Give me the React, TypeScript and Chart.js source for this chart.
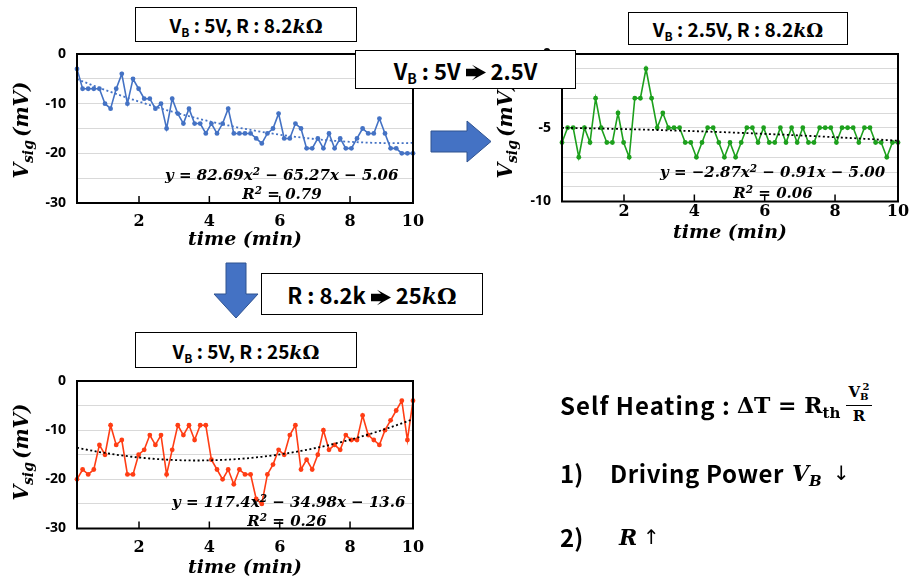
import React, { useEffect, useRef } from 'react';
import { Chart, registerables } from 'chart.js';
Chart.register(...registerables);

// ---------------- data ----------------
const T_FIRST = 0.237; // first sample time on the axis (min)
const T_LAST = 9.79; // last sample time on the axis (min)
const X_TICK_VALUES = [2, 4, 6, 8, T_LAST];
const X_TICK_LABELS = ['2', '4', '6', '8', '10'];

// V_B = 5V, R = 8.2kΩ  (mV)
const VSIG_5V_8K2 = [
  -3, -7, -7, -7, -7, -10, -11, -7, -4, -10, -5, -7, -9, -9, -11, -10, -15, -9, -12, -14,
  -11, -14, -14, -16, -14, -16, -14, -11, -16, -16, -16, -16, -17, -18, -16, -15, -12, -17, -17, -14,
  -15, -19, -19, -17, -19, -16, -19, -17, -19, -19, -17, -15, -16, -16, -13, -16, -19, -19, -20, -20, -20,
];
// V_B = 2.5V, R = 8.2kΩ (mV)
const VSIG_2V5_8K2 = [
  -6, -5, -5, -7, -5, -6, -3, -5, -6, -6, -4, -6, -7, -3, -3, -1, -3, -5, -4, -5,
  -5, -5, -6, -6, -7, -6, -5, -5, -6, -7, -6, -7, -6, -5, -5, -6, -5, -6, -6, -5,
  -6, -5, -6, -5, -6, -6, -5, -5, -5, -6, -5, -5, -5, -6, -5, -5, -6, -6, -7, -6, -6,
];
// V_B = 5V, R = 25kΩ (mV)
const VSIG_5V_25K = [
  -20, -18, -19, -18, -13, -15, -9, -13, -12, -19, -19, -15, -14, -11, -13, -11, -19, -14, -9, -11,
  -9, -12, -9, -9, -16, -18, -20, -18, -21, -18, -19, -19, -24, -25, -19, -17, -14, -15, -11, -9,
  -18, -16, -18, -15, -10, -14, -13, -14, -11, -12, -12, -7, -11, -12, -13, -10, -8, -6, -4, -12, -4,
];

const N = VSIG_5V_8K2.length;
const TIME = VSIG_5V_8K2.map((_, i) => T_FIRST + (i * (T_LAST - T_FIRST)) / (N - 1));

// least-squares quadratic trendline (like Excel's polynomial trendline)
function quadFit(xs: number[], ys: number[]) {
  const s = [0, 0, 0, 0, 0];
  const t = [0, 0, 0];
  xs.forEach((x, i) => {
    let p = 1;
    for (let k = 0; k < 5; k++) { s[k] += p; p *= x; }
    t[0] += ys[i]; t[1] += ys[i] * x; t[2] += ys[i] * x * x;
  });
  const A = [[s[0], s[1], s[2]], [s[1], s[2], s[3]], [s[2], s[3], s[4]]];
  const det = (m: number[][]) =>
    m[0][0] * (m[1][1] * m[2][2] - m[1][2] * m[2][1]) -
    m[0][1] * (m[1][0] * m[2][2] - m[1][2] * m[2][0]) +
    m[0][2] * (m[1][0] * m[2][1] - m[1][1] * m[2][0]);
  const D = det(A);
  return [0, 1, 2].map((j) => det(A.map((row, r) => row.map((v, k) => (k === j ? t[r] : v)))) / D);
}

const framePlugin = {
  id: 'frame',
  afterDraw(chart: any) {
    const { ctx, chartArea: a } = chart;
    ctx.save();
    ctx.strokeStyle = '#000';
    ctx.lineWidth = 2;
    ctx.strokeRect(a.left, a.top, a.right - a.left, a.bottom - a.top);
    const xs = chart.scales.x;
    ctx.lineWidth = 1.5;
    for (const t of xs.ticks) {
      const px = xs.getPixelForValue(t.value);
      if (px < a.right - 3) {
        ctx.beginPath();
        ctx.moveTo(px, a.bottom);
        ctx.lineTo(px, a.bottom - 7);
        ctx.stroke();
      }
    }
    ctx.restore();
  },
};

type P = {
  left: number; top: number; width: number; height: number;
  area: { l: number; t: number; r: number; b: number };
  values: number[]; color: string; trendColor: string;
  yMin: number; yMax: number; yStep: number; yLabelStep: number;
  tickPad: number; titleY: number;
};

function MiniChart(p: P) {
  const ref = useRef<HTMLCanvasElement>(null);
  useEffect(() => {
    const aT = p.area.t - p.top;
    const aR = p.area.r - p.left;
    const aB = p.area.b - p.top;
    const aL = p.area.l - p.left;
    const c = quadFit(TIME, p.values);
    const trend = TIME.map((x) => ({ x, y: c[0] + c[1] * x + c[2] * x * x }));
    const tfSize = 19;
    const titlePadBottom = p.top + p.height - p.titleY - (tfSize * 1.2) / 2;
    const chart = new Chart(ref.current as HTMLCanvasElement, {
      type: 'line',
      data: {
        datasets: [
          {
            data: p.values.map((y, i) => ({ x: TIME[i], y })),
            borderColor: p.color, backgroundColor: p.color, borderWidth: 1.6,
            pointRadius: 2.4, pointBorderWidth: 0, tension: 0, order: 2, clip: 5,
          } as any,
          {
            data: trend, borderColor: p.trendColor, borderWidth: 1.8, borderDash: [2, 2.5],
            pointRadius: 0, order: 1,
          } as any,
        ],
      },
      options: {
        responsive: false,
        animation: false,
        layout: { padding: { left: 0, top: aT, right: p.width - aR, bottom: 0 } },
        plugins: { legend: { display: false }, tooltip: { enabled: false } },
        scales: {
          x: {
            type: 'linear', min: T_FIRST, max: T_LAST,
            grid: { display: false, drawTicks: false }, border: { display: false },
            ticks: {
              autoSkip: false, maxRotation: 0, padding: p.tickPad, color: '#000',
              font: { family: 'DejaVu Serif', size: 16, weight: 'bold' },
              callback: (_v: any, i: number) => X_TICK_LABELS[i],
            },
            afterBuildTicks: (s: any) => { s.ticks = X_TICK_VALUES.map((v) => ({ value: v })); },
            afterFit: (s: any) => { s.height = p.height - aB; s.paddingLeft = 0; s.paddingRight = 0; },
            title: {
              display: true, text: 'time (min)', color: '#000',
              font: { family: 'DejaVu Serif', size: tfSize, weight: 'bold', style: 'italic' },
              padding: { top: 0, bottom: titlePadBottom },
            },
          },
          y: {
            min: p.yMin, max: p.yMax,
            grid: { color: '#d9d9d9', lineWidth: 1, drawTicks: false }, border: { display: false },
            ticks: {
              stepSize: p.yStep, padding: 11, color: '#000', autoSkip: false,
              font: { family: 'Noto Sans', size: 14, weight: 'bold' },
              callback: (v: any) => (Math.abs(Math.round(Number(v)) % p.yLabelStep) === 0 ? String(Math.round(Number(v))) : ''),
            },
            afterFit: (s: any) => { s.width = aL; s.paddingTop = 0; s.paddingBottom = 0; },
          },
        },
      } as any,
      plugins: [framePlugin],
    });
    return () => chart.destroy();
  }, []);
  return (
    <canvas
      ref={ref}
      width={p.width}
      height={p.height}
      style={{ position: 'absolute', left: p.left, top: p.top, width: p.width, height: p.height }}
    />
  );
}

const SANS = '"Noto Sans CJK KR", "Noto Sans", sans-serif';
const SERIF = '"DejaVu Serif", serif';

const kOhm = (
  <>
    <span style={{ fontFamily: SERIF, fontStyle: 'italic' }}>k</span>
    <span style={{ fontFamily: SERIF }}>Ω</span>
  </>
);
function HeavyArrow(props: { w: number; h: number }) {
  const { w, h } = props;
  const sh = h * 0.22;
  const hx = w * 0.5;
  return (
    <svg width={w} height={h} style={{ verticalAlign: 'middle', margin: '0 5px', position: 'relative', top: -1 }}>
      <polygon
        points={`0,${h / 2 - sh} ${hx},${h / 2 - sh} ${hx - 4},${h * 0.05} ${w},${h / 2} ${hx - 4},${h * 0.95} ${hx},${h / 2 + sh} 0,${h / 2 + sh}`}
        fill="#000"
      />
    </svg>
  );
}
const subB = (size: number) => (
  <sub style={{ fontSize: size, verticalAlign: 'baseline', position: 'relative', top: size * 0.35 }}>B</sub>
);

function Box(props: { l: number; t: number; w: number; h: number; fs: number; children: any }) {
  return (
    <div
      style={{
        position: 'absolute', left: props.l, top: props.t, width: props.w, height: props.h,
        boxSizing: 'border-box', border: '1.5px solid #000', background: '#fff',
        display: 'flex', alignItems: 'center', justifyContent: 'center',
        fontFamily: SANS, fontWeight: 'bold', fontSize: props.fs, whiteSpace: 'nowrap', zIndex: 3,
      }}
    >
      <span>{props.children}</span>
    </div>
  );
}

function Abs(props: { l: number; cy: number; fs: number; family?: string; italic?: boolean; children: any; center?: boolean; ls?: number }) {
  return (
    <div
      style={{
        position: 'absolute', left: props.l, top: props.cy - props.fs * 0.6, height: props.fs * 1.2,
        lineHeight: `${props.fs * 1.2}px`, fontSize: props.fs, fontWeight: 'bold',
        fontFamily: props.family || SERIF, fontStyle: props.italic ? 'italic' : 'normal',
        whiteSpace: 'nowrap', zIndex: 2, letterSpacing: props.ls || 0,
        transform: props.center ? 'translateX(-50%)' : undefined,
      }}
    >
      {props.children}
    </div>
  );
}

function YTitle(props: { cx: number; cy: number }) {
  return (
    <div
      style={{
        position: 'absolute', left: props.cx, top: props.cy, transform: 'translate(-50%,-50%) rotate(-90deg)',
        whiteSpace: 'nowrap', fontFamily: SERIF, fontWeight: 'bold', fontStyle: 'italic', fontSize: 20, lineHeight: '24px',
      }}
    >
      V<span style={{ fontSize: 14, position: 'relative', top: 5 }}>sig</span>
      <span style={{ marginLeft: 3 }}>(mV)</span>
    </div>
  );
}

const sup2 = <sup style={{ fontSize: '0.7em', verticalAlign: 'baseline', position: 'relative', top: '-0.45em' }}>2</sup>;

export default function App() {
  return (
    <div style={{ position: 'absolute', left: 0, top: 0, width: 912, height: 583, background: '#fff', overflow: 'hidden' }}>
      <MiniChart
        left={0} top={40} width={425} height={215}
        area={{ l: 77, t: 54, r: 413, b: 203 }}
        values={VSIG_5V_8K2} color="#4472C4" trendColor="#4472C4"
        yMin={-30} yMax={0} yStep={5} yLabelStep={10} tickPad={9} titleY={240}
      />
      <MiniChart
        left={480} top={40} width={430} height={205}
        area={{ l: 562, t: 54, r: 898, b: 201.5 }}
        values={VSIG_2V5_8K2} color="#1DA01D" trendColor="#000"
        yMin={-10} yMax={0} yStep={1} yLabelStep={5} tickPad={1} titleY={233}
      />
      <MiniChart
        left={0} top={365} width={425} height={218}
        area={{ l: 77, t: 381, r: 413, b: 528.5 }}
        values={VSIG_5V_25K} color="#FF3D14" trendColor="#000"
        yMin={-30} yMax={0} yStep={5} yLabelStep={10} tickPad={10} titleY={568}
      />

      <YTitle cx={22} cy={130} />
      <YTitle cx={506} cy={130} />
      <YTitle cx={22} cy={452} />

      {/* trendline equations */}
      <Abs l={165} cy={175} fs={15} italic>y = 82.69x{sup2} − 65.27x − 5.06</Abs>
      <Abs l={282} cy={194} fs={15} italic center>R{sup2} = 0.79</Abs>
      <Abs l={660} cy={172} fs={15} italic>y = −2.87x{sup2} − 0.91x − 5.00</Abs>
      <Abs l={773} cy={193} fs={15} italic center>R{sup2} = 0.06</Abs>
      <Abs l={172} cy={502} fs={15} italic>y = 117.4x{sup2} − 34.98x − 13.6</Abs>
      <Abs l={287} cy={521} fs={15} italic center>R{sup2} = 0.26</Abs>

      {/* condition boxes */}
      <Box l={135} t={7} w={222} h={35} fs={19}>V{subB(12)} : 5V, R : 8.2{kOhm}</Box>
      <Box l={628} t={12} w={220} h={33} fs={19}>V{subB(12)} : 2.5V, R : 8.2{kOhm}</Box>
      <Box l={355} t={50} w={221} h={39} fs={22}>V{subB(14)} : 5V<HeavyArrow w={20} h={17} />2.5V</Box>
      <Box l={261} t={273} w={222} h={42} fs={22}>R : 8.2k<HeavyArrow w={20} h={17} />25{kOhm}</Box>
      <Box l={135} t={332} w={222} h={36} fs={19}>V{subB(12)} : 5V, R : 25{kOhm}</Box>

      {/* block arrows */}
      <svg width={912} height={583} style={{ position: 'absolute', left: 0, top: 0, zIndex: 1 }}>
        <polygon points="431,131 467,131 467,121 491,141.5 467,162 467,152 431,152" fill="#4472C4" stroke="#2F528F" strokeWidth={1} />
        <polygon points="226,263 246,263 246,294 258,294 236,318 214,294 226,294" fill="#4472C4" stroke="#2F528F" strokeWidth={1} />
      </svg>

      {/* right-hand notes */}
      <Abs l={560} cy={405} fs={24} family={SANS} ls={1}>Self Heating :</Abs>
      <Abs l={737} cy={405} fs={22}>ΔT = R<span style={{ fontSize: 15, position: 'relative', top: 5 }}>th</span></Abs>
      <div style={{ position: 'absolute', left: 846, top: 382, width: 26, textAlign: 'center', fontFamily: SERIF, fontWeight: 'bold', fontSize: 15, lineHeight: '20px' }}>
        <div style={{ borderBottom: '1.5px solid #000', paddingBottom: 1 }}>
          V<span style={{ fontSize: 10, position: 'relative', top: 3 }}>B</span>
          <span style={{ fontSize: 10, position: 'relative', top: -7, marginLeft: -6 }}>2</span>
        </div>
        <div>R</div>
      </div>

      <Abs l={560} cy={473} fs={24} family={SANS}>1)</Abs>
      <Abs l={610} cy={473} fs={24} family={SANS} ls={0.6}>Driving Power</Abs>
      <Abs l={792} cy={473} fs={22} italic>V<span style={{ fontSize: 15, position: 'relative', top: 5 }}>B</span></Abs>
      <Abs l={833} cy={473} fs={20} family={'"DejaVu Sans"'}><span style={{ fontWeight: 'normal' }}>↓</span></Abs>

      <Abs l={560} cy={537} fs={24} family={SANS}>2)</Abs>
      <Abs l={619} cy={537} fs={22} italic>R</Abs>
      <Abs l={643} cy={537} fs={20} family={'"DejaVu Sans"'}><span style={{ fontWeight: 'normal' }}>↑</span></Abs>
    </div>
  );
}
